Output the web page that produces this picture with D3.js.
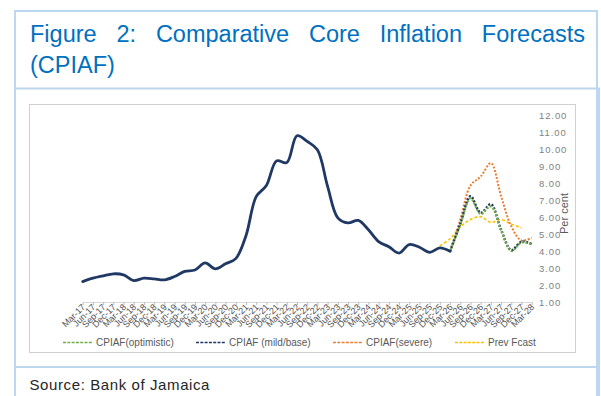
<!DOCTYPE html>
<html>
<head>
<meta charset="utf-8">
<script src="https://cdn.jsdelivr.net/npm/d3@7"></script>
<style>
  html, body { margin: 0; padding: 0; background: #fff; }
  svg { display: block; }
</style>
</head>
<body>
<svg id="fig" width="601" height="396"></svg>
<script>
// Quarterly categories, Mar-17 to Mar-28
const categories = [
  "Mar-17","Jun-17","Sep-17","Dec-17",
  "Mar-18","Jun-18","Sep-18","Dec-18",
  "Mar-19","Jun-19","Sep-19","Dec-19",
  "Mar-20","Jun-20","Sep-20","Dec-20",
  "Mar-21","Jun-21","Sep-21","Dec-21",
  "Mar-22","Jun-22","Sep-22","Dec-22",
  "Mar-23","Jun-23","Sep-23","Dec-23",
  "Mar-24","Jun-24","Sep-24","Dec-24",
  "Mar-25","Jun-25","Sep-25","Dec-25",
  "Mar-26","Jun-26","Sep-26","Dec-26",
  "Mar-27","Jun-27","Sep-27","Dec-27",
  "Mar-28"
];

// Actual core inflation (CPIAF), per cent, Mar-17 to Mar-26
const actualCats = categories.slice(0, 37);
const actualValues = [
  2.20, 2.40, 2.54, 2.66,
  2.60, 2.26, 2.40, 2.36,
  2.30, 2.50, 2.80, 2.88,
  3.30, 2.95, 3.25, 3.55,
  4.90, 7.20, 7.85, 9.30,
  9.20, 10.78, 10.45, 9.95,
  7.80, 5.95, 5.65, 5.80,
  5.25, 4.55, 4.25, 3.88,
  4.38, 4.22, 3.92, 4.18,
  3.98
];

// Scenario forecasts, Mar-26 to Mar-28
const forecastCats = categories.slice(36);
const optimisticValues = [3.98, 5.55, 7.10, 6.18, 6.62, 5.20, 4.00, 4.50, 4.40];
const baseValues       = [3.98, 5.60, 7.22, 6.25, 6.75, 5.25, 4.05, 4.55, 4.42];
const severeValues     = [3.98, 5.85, 7.85, 8.38, 9.17, 7.23, 5.45, 4.62, 4.78];

// Previous forecast, Dec-25 to Dec-27
const prevCats = categories.slice(35, 44);
const prevValues = [4.30, 4.72, 5.42, 5.85, 6.02, 5.68, 5.85, 5.58, 5.36];

const yTicks = [1,2,3,4,5,6,7,8,9,10,11,12];

const legendLabels = ["CPIAF(optimistic)", "CPIAF (mild/base)", "CPIAF(severe)", "Prev Fcast"];
const colors = {
  optimistic: "#70AD47",
  base: "#203864",
  severe: "#ED7D31",
  prev: "#FFC000"
};

const svg = d3.select("#fig");

// ---- frame ----
const frameBlue = "#BDD7EE";
svg.append("rect").attr("x", 15).attr("y", 11).attr("width", 582).attr("height", 400)
  .attr("fill", "none").attr("stroke", frameBlue).attr("stroke-width", 2);
svg.append("line").attr("x1", 15).attr("x2", 600).attr("y1", 88.5).attr("y2", 88.5)
  .attr("stroke", frameBlue).attr("stroke-width", 2);
svg.append("line").attr("x1", 15).attr("x2", 600).attr("y1", 367).attr("y2", 367)
  .attr("stroke", frameBlue).attr("stroke-width", 2);
svg.append("line").attr("x1", 599).attr("x2", 599).attr("y1", 88).attr("y2", 396)
  .attr("stroke", frameBlue).attr("stroke-width", 2);

// ---- title (justified first line) ----
const titleFont = "'Liberation Sans', Arial, sans-serif";
const titleWords = ["Figure", "2:", "Comparative", "Core", "Inflation", "Forecasts"];
const tLeft = 30, tRight = 585;
const tg = svg.append("g").attr("font-family", titleFont).attr("font-size", 23.5).attr("fill", "#0070C0");
const wordNodes = titleWords.map(w => tg.append("text").attr("y", 42).text(w));
const widths = wordNodes.map(n => n.node().getComputedTextLength());
const gap = (tRight - tLeft - d3.sum(widths)) / (titleWords.length - 1);
let cx = tLeft;
wordNodes.forEach((n, i) => { n.attr("x", cx); cx += widths[i] + gap; });
tg.append("text").attr("x", tLeft).attr("y", 72.5).text("(CPIAF)");

// ---- chart box ----
svg.append("rect").attr("x", 29.5).attr("y", 104.5).attr("width", 546).attr("height", 248)
  .attr("fill", "#fff").attr("stroke", "#D0D0D0").attr("stroke-width", 1);

const chartFont = "'Liberation Sans', Arial, sans-serif";
const x = d3.scalePoint().domain(categories).range([82.7, 531.7]);
const y = d3.scaleLinear().domain([1, 12]).range([302, 115]);

// x axis
const xAxis = svg.append("g").attr("transform", `translate(0,${y(1)})`)
  .call(d3.axisBottom(x).tickSize(3).tickSizeOuter(0));
xAxis.select(".domain").attr("stroke", "#D9D9D9");
xAxis.selectAll(".tick line").attr("stroke", "#BFBFBF");
xAxis.selectAll(".tick text")
  .attr("font-family", chartFont).attr("font-size", 9).attr("fill", "#505050")
  .attr("text-anchor", "end").attr("dy", null).attr("y", 0).attr("x", 0)
  .attr("transform", "translate(1,4) rotate(-45)")
  .attr("dominant-baseline", "middle");

// y axis on the right, labels only
const yAxis = svg.append("g").attr("transform", "translate(539,0)")
  .call(d3.axisRight(y).tickValues(yTicks).tickFormat(d3.format(".2f")).tickSize(0).tickPadding(0));
yAxis.select(".domain").remove();
yAxis.selectAll(".tick text")
  .attr("font-family", chartFont).attr("font-size", 9.5).attr("fill", "#7F7F7F")
  .attr("letter-spacing", 0.9);

svg.append("text")
  .attr("transform", `translate(568,${(y(12) + y(1)) / 2 + 5}) rotate(-90)`)
  .attr("text-anchor", "middle")
  .attr("font-family", chartFont).attr("font-size", 11).attr("fill", "#595959")
  .text("Per cent");

// ---- lines ----
const line = (cats, vals) => d3.line()
  .x((d, i) => x(cats[i]))
  .y(d => y(d))
  .curve(d3.curveCatmullRom.alpha(0.5))(vals);

const plot = svg.append("g").attr("fill", "none");

plot.append("path").attr("d", line(prevCats, prevValues))
  .attr("stroke", colors.prev).attr("stroke-width", 1.6).attr("stroke-dasharray", "3,2");

plot.append("path").attr("d", line(forecastCats, severeValues))
  .attr("stroke", colors.severe).attr("stroke-width", 2).attr("stroke-dasharray", "2,1.6");

plot.append("path").attr("d", line(forecastCats, baseValues))
  .attr("stroke", colors.base).attr("stroke-width", 2.4).attr("stroke-dasharray", "2,1.6");

plot.append("path").attr("d", line(forecastCats, optimisticValues))
  .attr("stroke", colors.optimistic).attr("stroke-width", 2.2)
  .attr("stroke-dasharray", "2,1.6").attr("stroke-dashoffset", 1.8);

plot.append("path").attr("d", line(actualCats, actualValues))
  .attr("stroke", colors.base).attr("stroke-width", 2.8)
  .attr("stroke-linejoin", "round").attr("stroke-linecap", "round");

// ---- legend ----
const legendColors = [colors.optimistic, colors.base, colors.severe, colors.prev];
const legendX = [63, 196, 333, 455];
const legendY = 342.5;
const lg = svg.append("g").attr("font-family", chartFont).attr("font-size", 10).attr("fill", "#595959");
legendLabels.forEach((lab, i) => {
  lg.append("line").attr("x1", legendX[i]).attr("x2", legendX[i] + 29)
    .attr("y1", legendY).attr("y2", legendY)
    .attr("stroke", legendColors[i]).attr("stroke-width", 1.3).attr("stroke-dasharray", "3,1.3");
  lg.append("text").attr("x", legendX[i] + 33).attr("y", legendY + 3.5).text(lab);
});

// ---- source ----
svg.append("text").attr("x", 29.5).attr("y", 389.5)
  .attr("font-family", chartFont).attr("font-size", 15).attr("fill", "#262626")
  .attr("letter-spacing", 0.6)
  .text("Source: Bank of Jamaica");
</script>
</body>
</html>
